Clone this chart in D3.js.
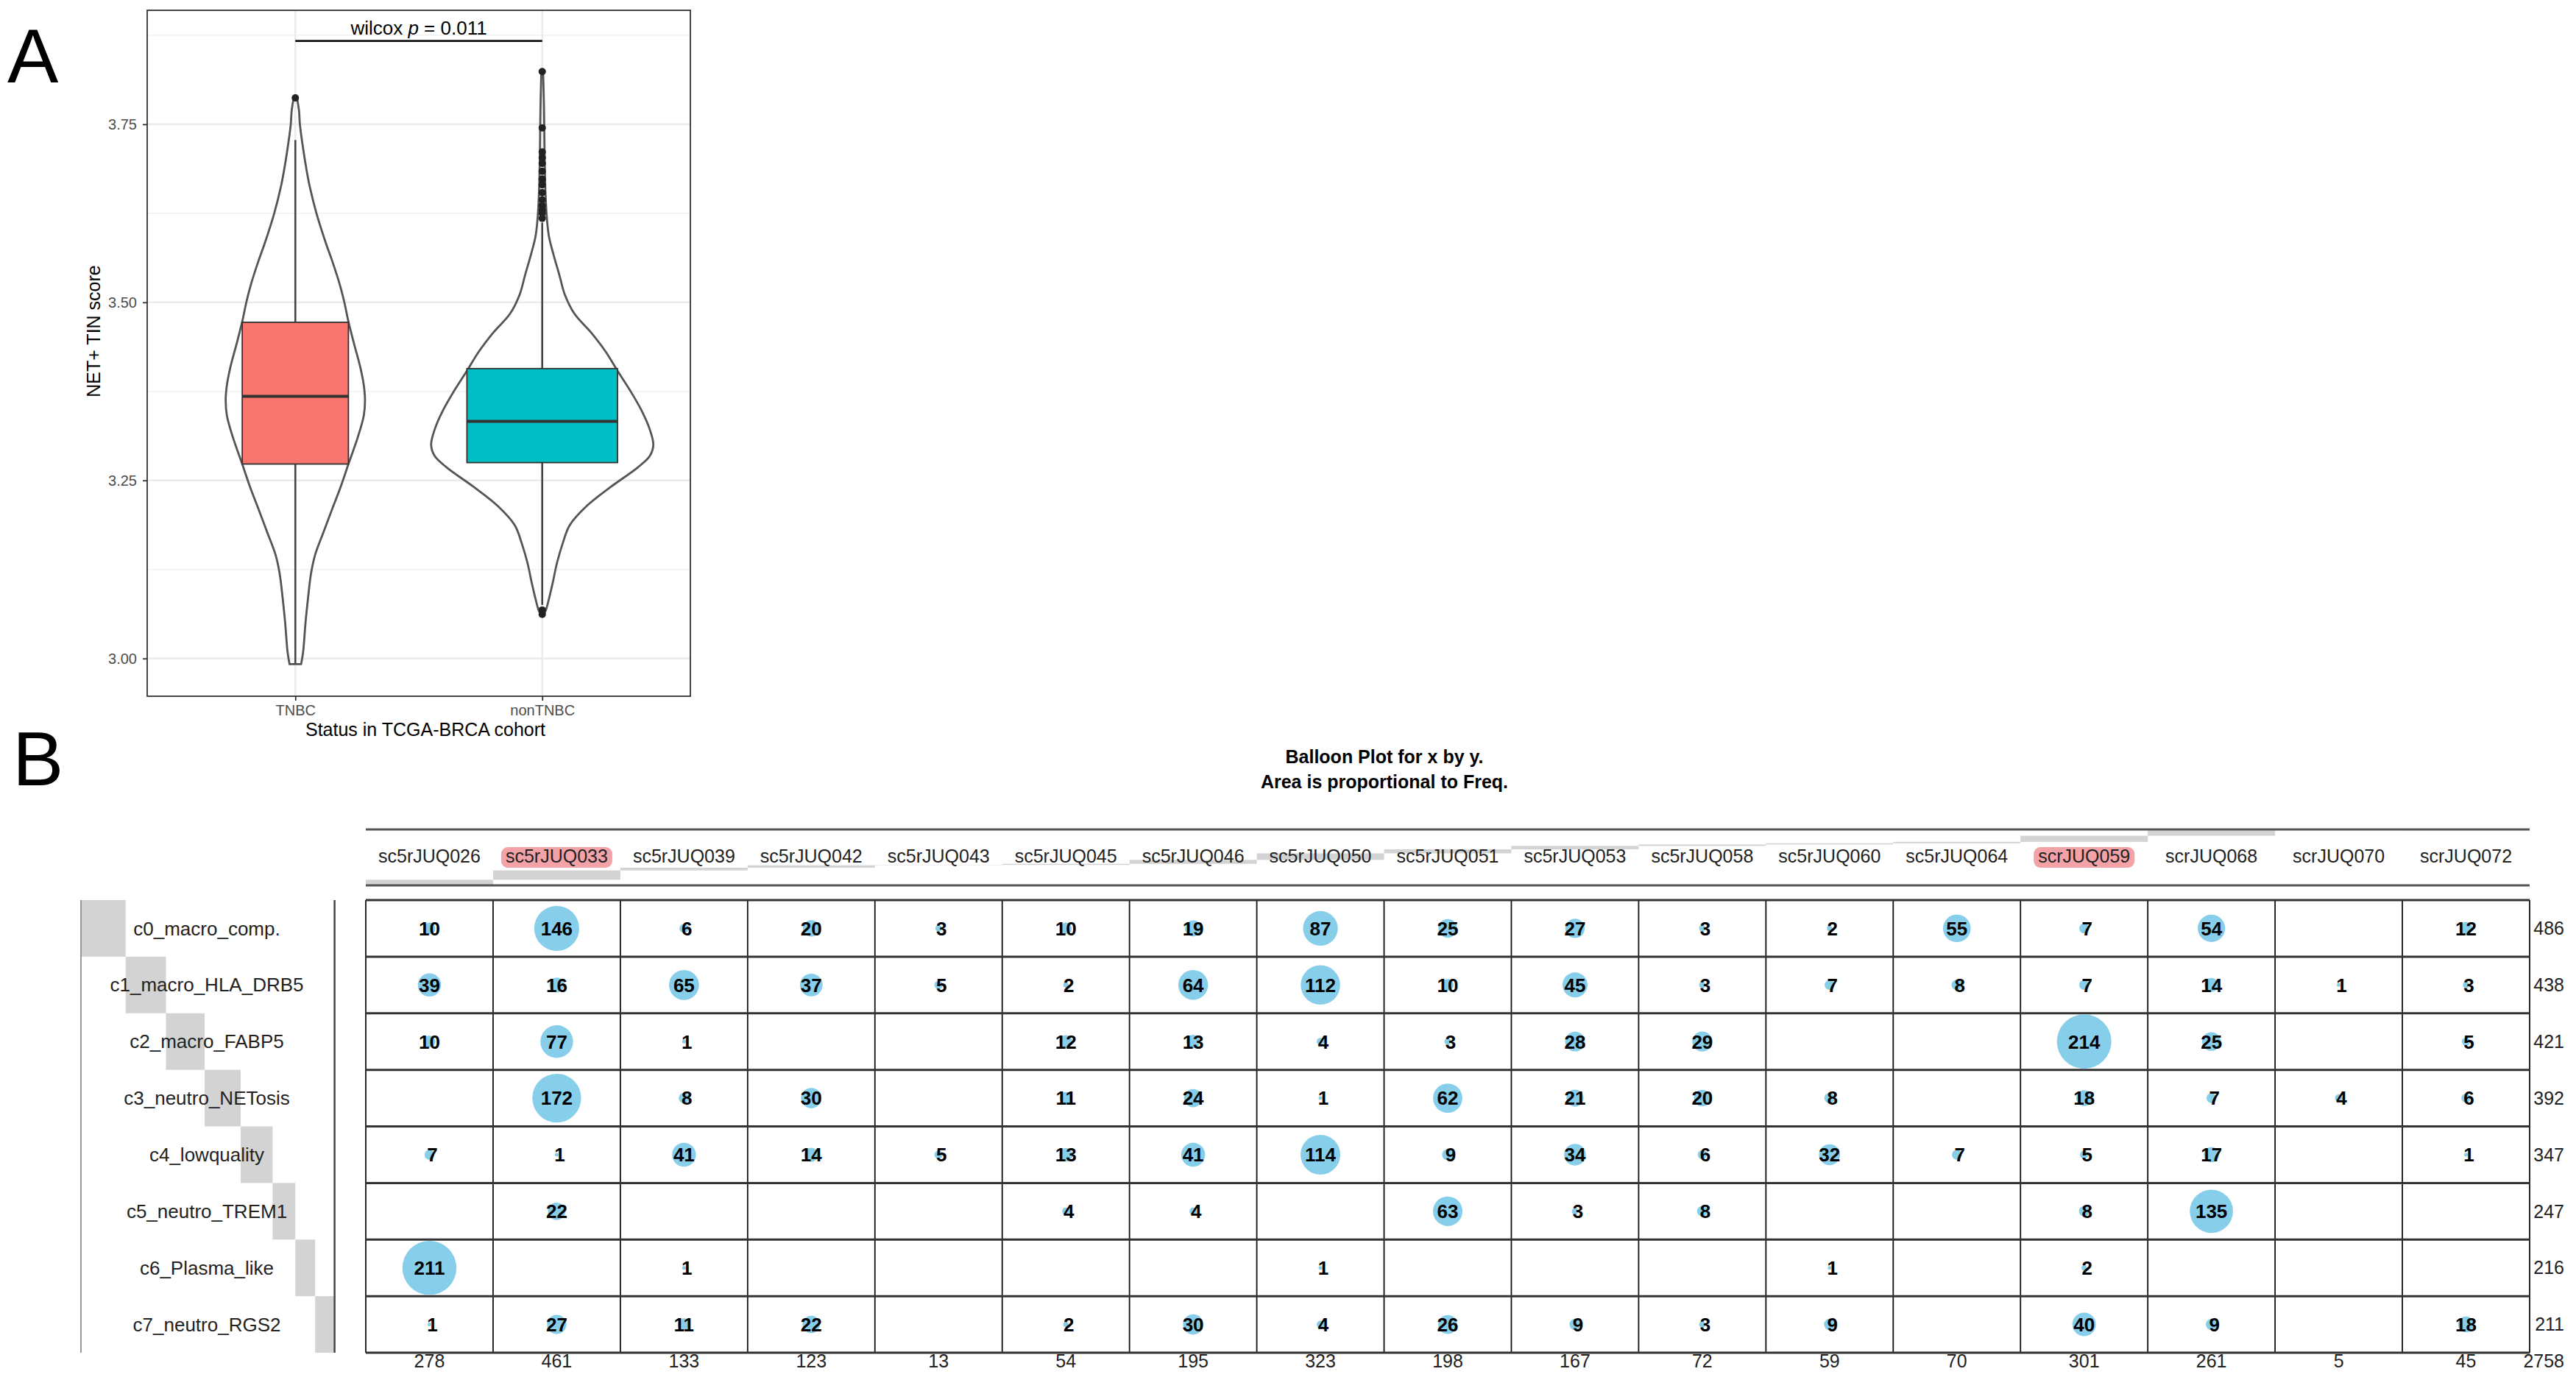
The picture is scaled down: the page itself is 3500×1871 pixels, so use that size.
<!DOCTYPE html>
<html>
<head>
<meta charset="utf-8">
<script src="https://cdn.jsdelivr.net/npm/d3@7/dist/d3.min.js"></script>
<style>
body { margin: 0; background: #fff; }
text { font-family: "Liberation Sans", Arial, sans-serif; }
</style>
</head>
<body>
<script>
// ---------- panel A data ----------
var groups = ["TNBC", "nonTNBC"];
// q1, median, q3, lower whisker, upper whisker
var boxStats = [
    [3.273, 3.368, 3.472, 2.992, 3.728],
    [3.275, 3.333, 3.407, 3.075, 3.612]
];
// violin outline: [score, relative density]
var tnbcViolin = [
    [3.789, 0.012], [3.769, 0.033], [3.750, 0.041], [3.716, 0.070], [3.684, 0.103],
    [3.663, 0.129], [3.625, 0.190], [3.584, 0.273], [3.558, 0.332], [3.526, 0.398],
    [3.500, 0.441], [3.473, 0.478], [3.442, 0.528], [3.410, 0.583], [3.384, 0.616],
    [3.362, 0.627], [3.341, 0.616], [3.310, 0.561], [3.273, 0.478], [3.241, 0.408],
    [3.210, 0.332], [3.178, 0.255], [3.146, 0.179], [3.120, 0.142], [3.083, 0.113],
    [3.051, 0.092], [3.009, 0.070], [2.992, 0.052]
];
var nonTnbcViolin = [
    [3.823, 0.008], [3.780, 0.015], [3.750, 0.018], [3.700, 0.022], [3.650, 0.030],
    [3.614, 0.044], [3.592, 0.061], [3.565, 0.105], [3.538, 0.155], [3.511, 0.203],
    [3.484, 0.290], [3.457, 0.443], [3.430, 0.574], [3.405, 0.673], [3.376, 0.792],
    [3.349, 0.891], [3.322, 0.967], [3.300, 1.000], [3.284, 0.967], [3.268, 0.858],
    [3.241, 0.618], [3.214, 0.400], [3.187, 0.247], [3.160, 0.181], [3.133, 0.131],
    [3.106, 0.094], [3.084, 0.061], [3.068, 0.033], [3.060, 0.008]
];
var tnbcOutliers = [3.787];
var nonTnbcOutliers = [3.824, 3.745, 3.711, 3.703, 3.695, 3.684, 3.673, 3.665,
    3.654, 3.644, 3.636, 3.630, 3.625, 3.618, 3.068, 3.062];
var yTicks = [3.00, 3.25, 3.50, 3.75];
var pValue = "0.011";
var bracketY = 3.867;

// ---------- panel B data ----------
var clusters = ["c0_macro_comp.", "c1_macro_HLA_DRB5", "c2_macro_FABP5", "c3_neutro_NETosis",
    "c4_lowquality", "c5_neutro_TREM1", "c6_Plasma_like", "c7_neutro_RGS2"];
var samples = ["sc5rJUQ026", "sc5rJUQ033", "sc5rJUQ039", "sc5rJUQ042", "sc5rJUQ043", "sc5rJUQ045",
    "sc5rJUQ046", "sc5rJUQ050", "sc5rJUQ051", "sc5rJUQ053", "sc5rJUQ058", "sc5rJUQ060",
    "sc5rJUQ064", "scrJUQ059", "scrJUQ068", "scrJUQ070", "scrJUQ072"];
var highlighted = ["sc5rJUQ033", "scrJUQ059"];
var counts = [
    [10, 146, 6, 20, 3, 10, 19, 87, 25, 27, 3, 2, 55, 7, 54, null, 12],
    [39, 16, 65, 37, 5, 2, 64, 112, 10, 45, 3, 7, 8, 7, 14, 1, 3],
    [10, 77, 1, null, null, 12, 13, 4, 3, 28, 29, null, null, 214, 25, null, 5],
    [null, 172, 8, 30, null, 11, 24, 1, 62, 21, 20, 8, null, 18, 7, 4, 6],
    [7, 1, 41, 14, 5, 13, 41, 114, 9, 34, 6, 32, 7, 5, 17, null, 1],
    [null, 22, null, null, null, 4, 4, null, 63, 3, 8, null, null, 8, 135, null, null],
    [211, null, 1, null, null, null, null, 1, null, null, null, 1, null, 2, null, null, null],
    [1, 27, 11, 22, null, 2, 30, 4, 26, 9, 3, 9, null, 40, 9, null, 18]
];

var fillA = ["#F8766D", "#00BFC4"];
var gridCol = "#ebebeb";

const svg = d3.select("body")
    .append("svg")
    .attr("width", 3500)
    .attr("height", 1871)
    .style("background", "#fff");

// panel letters
svg.append("text").attr("x", 10).attr("y", 112).attr("font-size", 104).text("A");
svg.append("text").attr("x", 17).attr("y", 1067).attr("font-size", 104).text("B");

// ================= panel A =================
var aLeft = 200, aRight = 938, aTop = 14, aBottom = 946;
var yA = d3.scaleLinear().domain([2.947, 3.910]).range([aBottom, aTop]);
var xA = d3.scalePoint().domain(groups).range([aLeft, aRight]).padding(0.6);
var unit = xA.step();
var boxWidth = [0.43, 0.61];

var gA = svg.append("g");

// grid
gA.selectAll(".minor")
    .data(yTicks.map(t => t + 0.125))
    .enter().append("line")
    .attr("x1", aLeft).attr("x2", aRight)
    .attr("y1", d => yA(d)).attr("y2", d => yA(d))
    .attr("stroke", "#f2f2f2").attr("stroke-width", 1.5);
gA.selectAll(".major")
    .data(yTicks)
    .enter().append("line")
    .attr("x1", aLeft).attr("x2", aRight)
    .attr("y1", d => yA(d)).attr("y2", d => yA(d))
    .attr("stroke", gridCol).attr("stroke-width", 2.5);
gA.selectAll(".vmajor")
    .data(groups)
    .enter().append("line")
    .attr("x1", d => xA(d)).attr("x2", d => xA(d))
    .attr("y1", aTop).attr("y2", aBottom)
    .attr("stroke", gridCol).attr("stroke-width", 2.5);

// violins
var violinArea = (cx) => d3.area()
    .y(d => yA(d[0]))
    .x0(d => cx - d[1] * 0.45 * unit)
    .x1(d => cx + d[1] * 0.45 * unit)
    .curve(d3.curveCatmullRom);

[tnbcViolin, nonTnbcViolin].forEach((v, i) => {
    gA.append("path")
        .attr("d", violinArea(xA(groups[i]))(v))
        .attr("fill", "none")
        .attr("stroke", "#555")
        .attr("stroke-width", 2.8);
});

// boxes
boxStats.forEach((s, i) => {
    var cx = xA(groups[i]);
    var hw = boxWidth[i] * unit / 2;
    gA.append("line")
        .attr("x1", cx).attr("x2", cx)
        .attr("y1", yA(s[4])).attr("y2", yA(s[3]))
        .attr("stroke", "#444").attr("stroke-width", 2.6);
    gA.append("rect")
        .attr("x", cx - hw).attr("width", 2 * hw)
        .attr("y", yA(s[2])).attr("height", yA(s[0]) - yA(s[2]))
        .attr("fill", fillA[i])
        .attr("stroke", "#333").attr("stroke-width", 1.8);
    gA.append("line")
        .attr("x1", cx - hw).attr("x2", cx + hw)
        .attr("y1", yA(s[1])).attr("y2", yA(s[1]))
        .attr("stroke", "#333").attr("stroke-width", 4);
});

// outliers
[tnbcOutliers, nonTnbcOutliers].forEach((o, i) => {
    gA.selectAll(".out" + i)
        .data(o)
        .enter().append("circle")
        .attr("cx", xA(groups[i]))
        .attr("cy", d => yA(d))
        .attr("r", 5)
        .attr("fill", "#222");
});

// border
gA.append("rect")
    .attr("x", aLeft).attr("y", aTop)
    .attr("width", aRight - aLeft).attr("height", aBottom - aTop)
    .attr("fill", "none").attr("stroke", "#333").attr("stroke-width", 1.8);

// axes
var yAxis = gA.append("g")
    .attr("transform", "translate(" + aLeft + ",0)")
    .call(d3.axisLeft(yA).tickValues(yTicks).tickFormat(d3.format(".2f")).tickSize(6).tickPadding(8));
var xAxis = gA.append("g")
    .attr("transform", "translate(0," + aBottom + ")")
    .call(d3.axisBottom(xA).tickSize(6).tickPadding(6));
[yAxis, xAxis].forEach(ax => {
    ax.select(".domain").remove();
    ax.selectAll("line").attr("stroke", "#333").attr("stroke-width", 1.8);
    ax.selectAll("text")
        .attr("font-size", 20)
        .attr("fill", "#4d4d4d")
        .attr("font-family", "Liberation Sans, Arial, sans-serif");
});

gA.append("text")
    .attr("transform", "translate(136,450) rotate(-90)")
    .attr("text-anchor", "middle")
    .attr("font-size", 25)
    .text("NET+ TIN score");
gA.append("text")
    .attr("x", 578).attr("y", 1000)
    .attr("text-anchor", "middle")
    .attr("font-size", 25)
    .text("Status in TCGA-BRCA cohort");

// wilcox bracket
gA.append("line")
    .attr("x1", xA(groups[0])).attr("x2", xA(groups[1]))
    .attr("y1", yA(bracketY)).attr("y2", yA(bracketY))
    .attr("stroke", "#111").attr("stroke-width", 2.8);
var wt = gA.append("text")
    .attr("x", (xA(groups[0]) + xA(groups[1])) / 2)
    .attr("y", yA(bracketY) - 9)
    .attr("text-anchor", "middle")
    .attr("font-size", 26);
wt.append("tspan").text("wilcox ");
wt.append("tspan").attr("font-style", "italic").text("p");
wt.append("tspan").text(" = " + pValue);

// ================= panel B =================
var bLeft = 497, bRight = 3437, bTop = 1223, bBottom = 1838;
var headTop = 1127, headBottom = 1203;
var sideLeft = 110, sideRight = 454.6;

var xB = d3.scaleBand().domain(samples).range([bLeft, bRight]);
var yB = d3.scaleBand().domain(clusters).range([bTop, bBottom]);
var rB = d3.scaleSqrt().domain([0, d3.max(counts.flat())]).range([0, 37]);

var rowTotals = counts.map(r => d3.sum(r));
var colTotals = samples.map((s, j) => d3.sum(counts, r => r[j]));
var grand = d3.sum(rowTotals);
var rowCum = d3.cumsum(rowTotals);
var colCum = d3.cumsum(colTotals);

var xSide = d3.scaleLinear().domain([0, grand]).range([sideLeft, sideRight]);
var yHead = d3.scaleLinear().domain([0, grand]).range([headBottom, headTop]);

var gB = svg.append("g");

// title
gB.append("text")
    .attr("x", 1881).attr("y", 1037)
    .attr("text-anchor", "middle")
    .attr("font-family", "DejaVu Sans, sans-serif")
    .attr("font-weight", "bold")
    .attr("font-size", 25)
    .text("Balloon Plot for x by y.");
gB.append("text")
    .attr("x", 1881).attr("y", 1071)
    .attr("text-anchor", "middle")
    .attr("font-family", "DejaVu Sans, sans-serif")
    .attr("font-weight", "bold")
    .attr("font-size", 25)
    .text("Area is proportional to Freq.");

// row marginal blocks
gB.selectAll(".sideblock")
    .data(clusters)
    .enter().append("rect")
    .attr("x", (d, i) => xSide(rowCum[i] - rowTotals[i]))
    .attr("width", (d, i) => xSide(rowCum[i]) - xSide(rowCum[i] - rowTotals[i]))
    .attr("y", d => yB(d))
    .attr("height", yB.bandwidth())
    .attr("fill", "#d3d3d3");

// column marginal blocks
gB.selectAll(".headblock")
    .data(samples)
    .enter().append("rect")
    .attr("x", d => xB(d))
    .attr("width", xB.bandwidth())
    .attr("y", (d, j) => yHead(colCum[j]))
    .attr("height", (d, j) => yHead(colCum[j] - colTotals[j]) - yHead(colCum[j]))
    .attr("fill", "#d3d3d3");

// side lines
gB.append("line")
    .attr("x1", sideLeft).attr("x2", sideLeft)
    .attr("y1", bTop).attr("y2", bBottom)
    .attr("stroke", "#999").attr("stroke-width", 2);
gB.append("line")
    .attr("x1", sideRight).attr("x2", sideRight)
    .attr("y1", bTop).attr("y2", bBottom)
    .attr("stroke", "#444").attr("stroke-width", 2.5);
[headTop, headBottom].forEach(yy => {
    gB.append("line")
        .attr("x1", bLeft).attr("x2", bRight)
        .attr("y1", yy).attr("y2", yy)
        .attr("stroke", "#555").attr("stroke-width", 3);
});

// row labels
gB.selectAll(".rowlab")
    .data(clusters)
    .enter().append("text")
    .attr("x", 281)
    .attr("y", d => yB(d) + yB.bandwidth() / 2)
    .attr("dy", "0.35em")
    .attr("text-anchor", "middle")
    .attr("font-size", 26)
    .attr("fill", "#222")
    .text(d => d);

// column labels with highlight
var colLab = gB.selectAll(".collab")
    .data(samples)
    .enter().append("g");
colLab.append("text")
    .attr("x", d => xB(d) + xB.bandwidth() / 2)
    .attr("y", 1172)
    .attr("text-anchor", "middle")
    .attr("font-size", 25)
    .attr("fill", "#222")
    .text(d => d)
    .each(function (d) {
        if (highlighted.indexOf(d) < 0) return;
        var bb = this.getBBox();
        d3.select(this.parentNode).insert("rect", "text")
            .attr("x", bb.x - 6).attr("width", bb.width + 12)
            .attr("y", 1151).attr("height", 28)
            .attr("rx", 9)
            .attr("fill", "#f3a3a8");
    });

// grid lines
gB.selectAll(".vline")
    .data(d3.range(samples.length + 1))
    .enter().append("line")
    .attr("x1", j => bLeft + j * xB.step()).attr("x2", j => bLeft + j * xB.step())
    .attr("y1", bTop).attr("y2", bBottom)
    .attr("stroke", "#111").attr("stroke-width", 1.8);
gB.selectAll(".hline")
    .data(d3.range(clusters.length + 1))
    .enter().append("line")
    .attr("x1", bLeft).attr("x2", bRight)
    .attr("y1", i => bTop + i * yB.step()).attr("y2", i => bTop + i * yB.step())
    .attr("stroke", "#333").attr("stroke-width", 3);

// balloons
var cells = [];
counts.forEach((row, i) => row.forEach((v, j) => {
    if (v != null) cells.push({ row: clusters[i], col: samples[j], value: v });
}));

gB.selectAll(".balloon")
    .data(cells)
    .enter().append("circle")
    .attr("cx", d => xB(d.col) + xB.bandwidth() / 2)
    .attr("cy", d => yB(d.row) + yB.bandwidth() / 2)
    .attr("r", d => rB(d.value))
    .attr("fill", "#87ceeb");

// small numbers sit a touch right of their dot, as in the original
gB.selectAll(".cellnum")
    .data(cells)
    .enter().append("text")
    .attr("x", d => xB(d.col) + xB.bandwidth() / 2 + (d.value < 10 ? 4 : 0))
    .attr("y", d => yB(d.row) + yB.bandwidth() / 2)
    .attr("dy", "0.36em")
    .attr("text-anchor", "middle")
    .attr("font-size", 26)
    .attr("font-weight", "bold")
    .attr("fill", "#000")
    .text(d => d.value);

// totals
gB.selectAll(".rowtot")
    .data(rowTotals)
    .enter().append("text")
    .attr("x", 3484)
    .attr("y", (d, i) => yB(clusters[i]) + yB.bandwidth() / 2)
    .attr("dy", "0.35em")
    .attr("text-anchor", "end")
    .attr("font-size", 25)
    .attr("fill", "#222")
    .text(d => d);
gB.selectAll(".coltot")
    .data(colTotals)
    .enter().append("text")
    .attr("x", (d, j) => xB(samples[j]) + xB.bandwidth() / 2)
    .attr("y", 1849)
    .attr("dy", "0.35em")
    .attr("text-anchor", "middle")
    .attr("font-size", 25)
    .attr("fill", "#222")
    .text(d => d);
gB.append("text")
    .attr("x", 3484).attr("y", 1849)
    .attr("dy", "0.35em")
    .attr("text-anchor", "end")
    .attr("font-size", 25)
    .attr("fill", "#222")
    .text(grand);
</script>
</body>
</html>
